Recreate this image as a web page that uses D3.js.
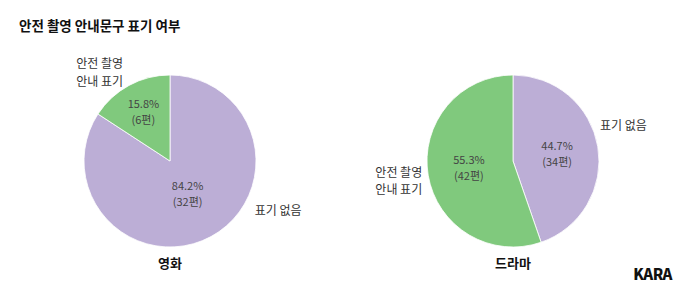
<!DOCTYPE html>
<html><head><meta charset="utf-8">
<script src="https://cdn.jsdelivr.net/npm/d3@7/dist/d3.min.js"></script>
<style>
body{margin:0;background:#fff;}
text{font-family:"Noto Sans CJK KR","Noto Sans",sans-serif;}
</style></head><body>
<svg id="c" width="680" height="289"></svg>
<script>
const title = "안전 촬영 안내문구 표기 여부";
const charts = ["영화", "드라마"];
const categories = ["표기 없음", "안전 촬영\n안내 표기"];
const percentValues = { "영화": [84.2, 15.8], "드라마": [44.7, 55.3] };
const countValues = { "영화": [32, 6], "드라마": [34, 42] };
const colors = ["#bcaed6", "#80c97d"];

// layout (not data)
const centers = { "영화": [170, 161], "드라마": [513, 161] };
const R = 86;
const outerLabel = { "영화": [[114.7, 119], [-38.5, 113]], "드라마": [[72, 116], [260, 116]] };

const svg = d3.select("#c");
svg.append("text").attr("x", 19).attr("y", 31).attr("font-size", 13.5).attr("font-weight", 700)
  .attr("fill", "#111").text(title);

const pie = d3.pie().sort(null).value(d => d.v);
const arc = d3.arc().innerRadius(0).outerRadius(R);

charts.forEach(name => {
  const [cx, cy] = centers[name];
  const g = svg.append("g").attr("transform", `translate(${cx},${cy})`);
  const data = categories.map((c, i) => ({ c, i, v: percentValues[name][i], n: countValues[name][i] }));
  const arcs = pie(data);
  g.selectAll("path").data(arcs).join("path").attr("d", arc)
    .attr("fill", d => colors[d.data.i]).attr("stroke", "#fff").attr("stroke-width", 0.8);
  arcs.forEach(a => {
    const p = a.data.v / 100;
    const rf = p < 0.3 ? 0.65 : p > 0.7 ? 0.43 : 0.52;
    const mid = (a.startAngle + a.endAngle) / 2;
    const x = Math.sin(mid) * R * rf, y = -Math.cos(mid) * R * rf;
    const t = g.append("text").attr("text-anchor", "middle").attr("font-size", 11).attr("fill", "#444");
    t.append("tspan").attr("x", x).attr("y", y - 4).text(a.data.v.toFixed(1) + "%");
    t.append("tspan").attr("x", x).attr("y", y + 12).text("(" + a.data.n + "편)");
    const [ang, rr] = outerLabel[name][a.data.i];
    const ar = ang * Math.PI / 180;
    const ox = Math.sin(ar) * rr, oy = -Math.cos(ar) * rr;
    const lines = a.data.c.split("\n");
    const lh = 17.5;
    const tmp = g.append("text").attr("font-size", 12).attr("fill", "#333");
    lines.forEach((l, k) => tmp.append("tspan").attr("x", 0).attr("y", oy + (k - (lines.length - 1) / 2) * lh + 4.5).text(l));
    const w = tmp.node().getBBox().width;
    tmp.selectAll("tspan").attr("x", ox - w / 2);
  });
  svg.append("text").attr("x", cx).attr("y", cy + 107).attr("text-anchor", "middle")
    .attr("font-size", 13).attr("font-weight", 700).attr("fill", "#111").text(name);
});

svg.append("text").attr("x", 672).attr("y", 280).attr("text-anchor", "end")
  .attr("font-family", "Inter, 'DejaVu Sans', sans-serif").attr("font-size", 15).attr("font-weight", 900)
  .attr("letter-spacing", -0.5).attr("fill", "#111").text("KARA");
</script>
</body></html>
